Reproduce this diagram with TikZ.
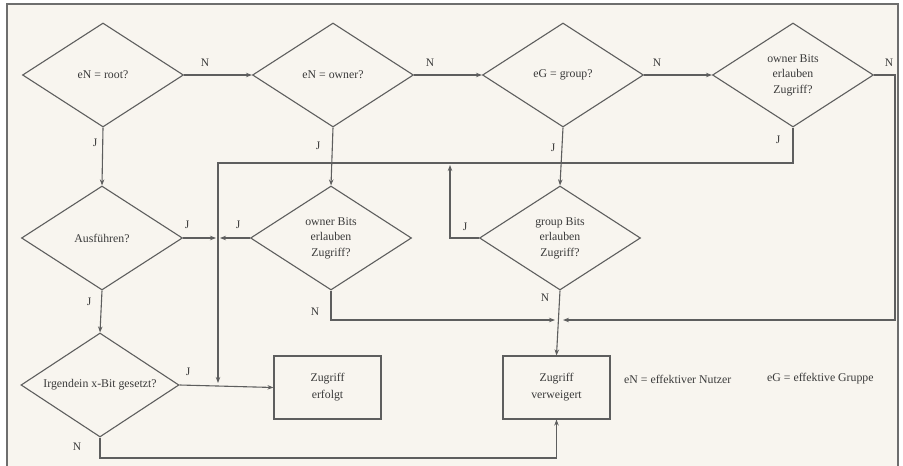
\documentclass[tikz,border=0pt]{standalone}
\usepackage{fontspec}
\setmainfont{Liberation Serif}
\usetikzlibrary{shapes.geometric,arrows.meta}
\definecolor{bgc}{HTML}{F8F5EF}
\definecolor{linec}{HTML}{5E5E5E}
\definecolor{textc}{HTML}{3A3A3A}
\definecolor{framec}{HTML}{6E6E6E}
\begin{document}
\begin{tikzpicture}[x=1pt,y=-1pt,
  dia/.style={diamond, draw=linec, line width=1.1pt, minimum width=161pt, minimum height=104pt, inner sep=0pt},
  lbl/.style={text=textc, font=\fontsize{11.8}{15.5}\selectfont, align=center},
  boxn/.style={draw=linec, line width=1.1pt, minimum width=107pt, minimum height=63pt, inner sep=0pt, text=textc, font=\fontsize{11.8}{17}\selectfont, align=center},
  yn/.style={text=textc, font=\fontsize{11.5}{14}\selectfont, inner sep=0pt},
  con/.style={draw=linec, line width=1.1pt},
  arr/.style={con, -{Stealth[length=6pt,width=4.5pt]}}
]
\useasboundingbox (0,0) rectangle (903,466);
\fill[white] (0,0) rectangle (903,466);
\fill[bgc] (7,4) rectangle (898,466);
\draw[framec, line width=1.4pt] (7,470) -- (7,4) -- (898,4) -- (898,470);

% diamonds
\node[dia, label={[lbl]center:eN = root?}] (d1) at (103,75) {};
\node[dia, label={[lbl]center:eN = owner?}] (d2) at (333,75) {};
\node[dia, label={[lbl]center:eG = group?}] (d3) at (563,75) {};
\node[dia, label={[lbl]center:owner Bits\\erlauben\\Zugriff?}] (d4) at (793,75) {};
\node[dia, label={[lbl]center:Ausführen?}] (d5) at (102,238) {};
\node[dia, label={[lbl]center:owner Bits\\erlauben\\Zugriff?}] (d6) at (331,238) {};
\node[dia, label={[lbl]center:group Bits\\erlauben\\Zugriff?}] (d7) at (560,238) {};
\node[dia, minimum width=158pt, label={[lbl]center:Irgendein x-Bit gesetzt?}] (d8) at (100,385) {};

% boxes
\node[boxn] (ok) at (327.5,387.5) {Zugriff\\erfolgt};
\node[boxn] (no) at (556.5,387.5) {Zugriff\\verweigert};

% legend
\node[lbl, anchor=west, inner sep=0pt] (leg1) at (624,379) {eN = effektiver Nutzer};
\node[lbl, anchor=west, inner sep=0pt] (leg2) at (767,379) {eG = effektive Gruppe};

% helper coordinates
\coordinate (r1) at (895,75);
\coordinate (r2) at (895,320);
\coordinate (m1) at (563,320);
\coordinate (t1) at (793,163);
\coordinate (t2) at (218,163);
\coordinate (t3) at (218,383);
\coordinate (a5) at (216,238);
\coordinate (a6) at (220,238);
\coordinate (g1) at (450,238);
\coordinate (g2) at (450,165);
\coordinate (o1) at (331,320);
\coordinate (o2) at (555,320);
\coordinate (b1) at (100,458);
\coordinate (b2) at (556.5,458);

% connectors top row
\draw[arr] (d1.east) -- (d2.west);
\draw[arr] (d2.east) -- (d3.west);
\draw[arr] (d3.east) -- (d4.west);
\draw[arr] (d4.east) -- (r1) -- (r2) -- (m1);
% verticals
\draw[arr] (d1.south) -- (d5.north);
\draw[arr] (d2.south) -- (d6.north);
\draw[arr] (d3.south) -- (d7.north);
\draw[arr] (d4.south) -- (t1) -- (t2) -- (t3);
\draw[arr] (d5.east) -- (a5);
\draw[arr] (d6.west) -- (a6);
\draw[arr] (d7.west) -- (g1) -- (g2);
\draw[arr] (d5.south) -- (d8.north);
\draw[arr] (d6.south) -- (o1) -- (o2);
\draw[arr] (d7.south) -- (no.north);
\draw[arr] (d8.east) -- (ok.west);
\draw[arr] (d8.south) -- (b1) -- (b2) -- (no.south);

% J / N labels
\node[yn] (n1) at (205,63) {N};
\node[yn] (n2) at (430,63) {N};
\node[yn] (n3) at (657,63) {N};
\node[yn] (n4) at (889,63) {N};
\node[yn] (j1) at (95,143) {J};
\node[yn] (j2) at (318,146) {J};
\node[yn] (j3) at (553,148) {J};
\node[yn] (j4) at (778,140) {J};
\node[yn] (j5) at (187,225) {J};
\node[yn] (j6) at (238,225) {J};
\node[yn] (j7) at (465,227) {J};
\node[yn] (j8) at (89,302) {J};
\node[yn] (n6) at (315,312) {N};
\node[yn] (n7) at (545,298) {N};
\node[yn] (j9) at (188,372) {J};
\node[yn] (n8) at (77,447) {N};
\end{tikzpicture}
\end{document}
